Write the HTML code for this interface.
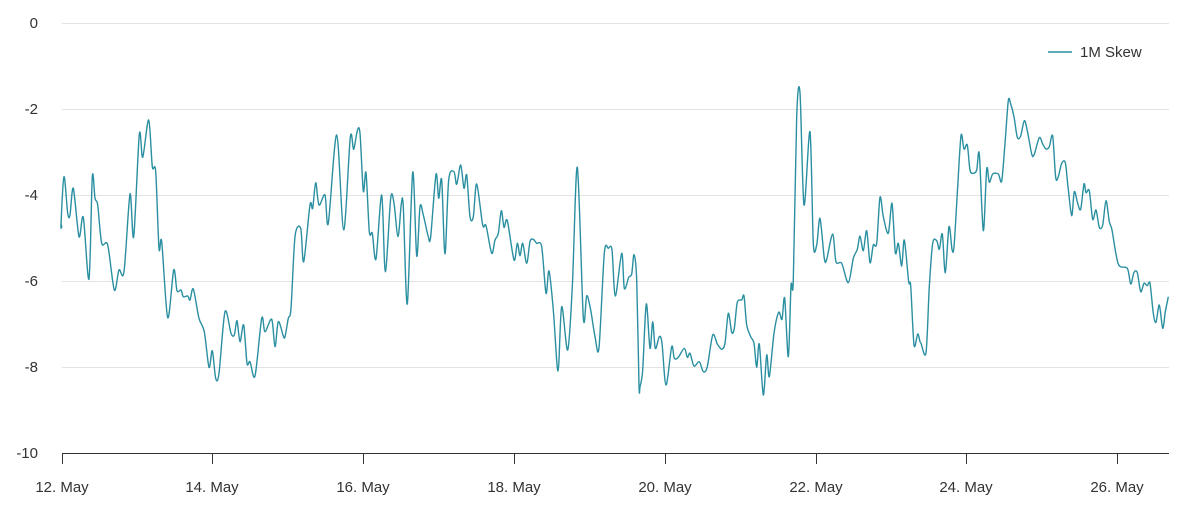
<!DOCTYPE html>
<html><head><meta charset="utf-8"><style>
html,body{margin:0;padding:0;background:#fff;}
svg text{font-family:"Liberation Sans",sans-serif;font-size:15px;fill:#333;}
</style></head><body>
<svg id="s" width="1182" height="509" xmlns="http://www.w3.org/2000/svg">
<g stroke="#e3e3e3" stroke-width="1">
<line x1="62" x2="1169" y1="23.5" y2="23.5"/>
<line x1="62" x2="1169" y1="109.5" y2="109.5"/>
<line x1="62" x2="1169" y1="195.5" y2="195.5"/>
<line x1="62" x2="1169" y1="281.5" y2="281.5"/>
<line x1="62" x2="1169" y1="367.5" y2="367.5"/>
</g>
<line x1="62" x2="1169" y1="453.5" y2="453.5" stroke="#333" stroke-width="1"/>
<g stroke="#333" stroke-width="1">
<line x1="62.5" x2="62.5" y1="453" y2="464"/>
<line x1="212.5" x2="212.5" y1="453" y2="464"/>
<line x1="363.5" x2="363.5" y1="453" y2="464"/>
<line x1="514.5" x2="514.5" y1="453" y2="464"/>
<line x1="665.5" x2="665.5" y1="453" y2="464"/>
<line x1="816.5" x2="816.5" y1="453" y2="464"/>
<line x1="966.5" x2="966.5" y1="453" y2="464"/>
<line x1="1117.5" x2="1117.5" y1="453" y2="464"/>
</g>
<g text-anchor="end">
<text x="38" y="28">0</text>
<text x="38" y="114">-2</text>
<text x="38" y="200">-4</text>
<text x="38" y="286">-6</text>
<text x="38" y="372">-8</text>
<text x="38" y="458">-10</text>
</g>
<g text-anchor="middle">
<text x="62" y="492">12. May</text>
<text x="212" y="492">14. May</text>
<text x="363" y="492">16. May</text>
<text x="514" y="492">18. May</text>
<text x="665" y="492">20. May</text>
<text x="816" y="492">22. May</text>
<text x="966" y="492">24. May</text>
<text x="1117" y="492">26. May</text>
</g>
<line x1="1048" x2="1072" y1="52" y2="52" stroke="#2a8fa0" stroke-width="1.5"/>
<text x="1080" y="57">1M Skew</text>
<path id="p" fill="none" stroke="#2a8fa0" stroke-width="1.4" stroke-linejoin="round"/>
</svg>
<script>
var Z=[[55,[18,435,27,290,38,400,45,405,55,325,72,470,85,412,102,597,112,290,120,355,128,375,140,490,158,495,178,630,192,570,207,575,225,342,236,470,253,163,263,232,281,120,292,260,302,275,312,505,320,485,338,713,356,570,366,632,378,630,385,650,398,648,405,660,415,627,432,715,448,755,462,862,472,812,482,895,492,880,510,695,528,760,538,765,546,722,555,785,566,735,576,850,585,845,600,888,620,715,630,755,650,718,660,800,670,725,685,768,690,770,700,715,708,685,720,470,737,445,746,545,765,375,773,385,782,308,792,375,810,345,820,430,845,165,866,450,886,172,896,208]],
[340,[52,152,60,160,70,333,78,278,88,455,97,460,108,537,125,345,136,575,152,355,162,370,174,470,184,372,190,380,202,672,218,277,230,528,240,380,250,405,265,470,272,470,288,283,296,355,305,300,315,522,326,300,342,275,350,313,362,255,372,325,380,285,390,410,400,410,410,312,428,435,438,437,455,520,465,480,475,460,484,392,492,442,502,422,522,540,532,490,540,527,548,490,560,550,570,485,580,478,590,490,605,500,618,640,627,573,640,690,654,873,665,680,683,810,697,620,712,262,730,712,740,647,752,690,765,770,777,803,793,520,805,505,816,510,826,648,845,520,853,625,866,592,875,582,882,524,890,600,897,915]],
[620,[60,920,68,870,79,672,90,805,98,725,106,805,118,770,126,790,138,915,155,800,163,835,175,832,193,805,202,832,210,820,222,858,238,845,250,875,262,860,278,765,292,792,305,808,315,790,325,700,335,757,343,745,352,667,365,660,372,648,380,735,392,770,402,790,410,862,418,792,430,945,440,825,448,890,462,760,476,697,486,718,494,655,505,830,513,617,520,600,530,110,540,38,552,375,570,155,580,490,590,495,600,415,613,535,620,538,638,462,648,545,665,550,685,608,700,535,712,508,720,468,730,512,740,452,750,548,760,495,770,490,780,352,790,410,805,460,816,370,826,518,835,490,845,558,853,480,866,605,872,618,882,795,893,762,900,785]],
[890,[93,790,108,818,118,620,128,490,140,482,148,508,157,462,166,578,177,440,186,508,192,500,202,340,213,167,222,207,232,195,240,270,250,280,260,270,268,222,280,452,290,267,298,307,308,282,325,282,335,303,345,190,355,62,362,72,372,110,382,172,392,168,403,122,412,152,425,222,432,225,448,173,458,192,468,207,478,200,488,168,497,292,505,290,515,250,526,248,534,320,545,407,553,335,563,370,572,388,582,312,588,338,598,332,608,418,618,390,628,442,638,435,648,362,658,425,666,450,685,552,712,565,722,612,732,577,742,578,752,635,762,610,772,617,780,610,790,700,798,727,808,675,818,745,826,695,835,650]]];
var P=[[62,225]];
Z.forEach(function(z){var a=z[1];for(var i=0;i<a.length;i+=2){P.push([z[0]+a[i]/3,80+a[i+1]/3]);}});
var t=0.3,d="M"+P[0][0].toFixed(1)+" "+P[0][1].toFixed(1);
for(var i=0;i<P.length-1;i++){var p0=P[Math.max(0,i-1)],p1=P[i],p2=P[i+1],p3=P[Math.min(P.length-1,i+2)];
var c1x=p1[0]+(p2[0]-p0[0])*t/1.5*0.5*2/2,c1y=p1[1]+(p2[1]-p0[1])*t/2*1,c2x=p2[0]-(p3[0]-p1[0])*t/2,c2y=p2[1]-(p3[1]-p1[1])*t/2;
c1x=p1[0]+(p2[0]-p0[0])*t/2;
d+="C"+c1x.toFixed(1)+" "+c1y.toFixed(1)+" "+c2x.toFixed(1)+" "+c2y.toFixed(1)+" "+p2[0].toFixed(1)+" "+p2[1].toFixed(1);}
document.getElementById("p").setAttribute("d",d);
</script>
</body></html>
